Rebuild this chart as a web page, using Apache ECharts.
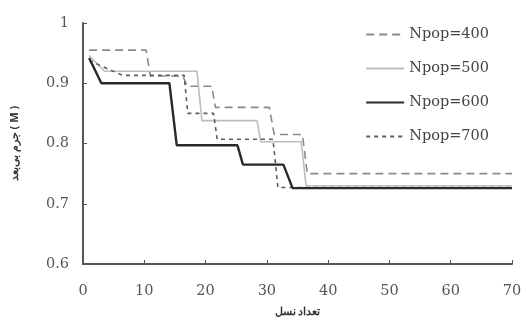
<!DOCTYPE html>
<html><head><meta charset="utf-8">
<script src="https://cdn.jsdelivr.net/npm/echarts@6/dist/echarts.min.js"></script>
<style>html,body{margin:0;padding:0;background:#fff}#c{width:526px;height:325px}</style>
</head><body><div id="c"></div>
<script>
const seriesNames = ['Npop=400', 'Npop=500', 'Npop=600', 'Npop=700'];
const xTicks = [0, 10, 20, 30, 40, 50, 60, 70];
const yTicks = [0.6, 0.7, 0.8, 0.9, 1];
const pop400 = [[1,0.955],[10.3,0.955],[11,0.912],[16.3,0.912],[17,0.895],[21,0.895],[21.6,0.86],[30.4,0.86],[31.2,0.815],[35.8,0.815],[36.6,0.75],[70,0.75]];
const pop500 = [[1,0.946],[3.5,0.92],[18.6,0.92],[19.4,0.838],[28.4,0.838],[29,0.803],[35.6,0.803],[36.4,0.73],[70,0.73]];
const pop600 = [[1,0.942],[3,0.9],[14.1,0.9],[15.3,0.797],[25.2,0.797],[26.1,0.765],[32.7,0.765],[34.2,0.726],[70,0.726]];
const pop700 = [[1,0.938],[4,0.924],[6.5,0.913],[16.5,0.913],[17.1,0.85],[21.3,0.85],[21.9,0.807],[31,0.807],[31.8,0.727],[70,0.727]];

const chart = echarts.init(document.getElementById('c'), null, {renderer:'canvas'});
const font = 'DejaVu Serif';
const styles = [
  {color:'#8a8a8a', width:1.6, type:[8,5]},
  {color:'#bdbdbd', width:1.6, type:'solid'},
  {color:'#2a2a2a', width:2.4, type:'solid'},
  {color:'#5e5e5e', width:1.6, type:[4,4]}
];
const datas = [pop400, pop500, pop600, pop700];
chart.setOption({
  backgroundColor:'#fff',
  animation:false,
  grid:{left:83, right:14, top:23, bottom:61},
  legend:{
    orient:'vertical', right:32, top:22, itemWidth:38, itemHeight:10, itemGap:19,
    itemStyle:{color:'transparent', borderWidth:0},
    textStyle:{fontFamily:font, fontSize:14.5, color:'#444'},
    data: seriesNames
  },
  xAxis:{
    type:'value', min:0, max:70, interval:10,
    name:'تعداد نسل', nameLocation:'middle', nameGap:42,
    nameTextStyle:{fontFamily:'Noto Sans', fontSize:11, fontWeight:'bold', color:'#333'},
    axisLine:{lineStyle:{color:'#555', width:2}},
    axisTick:{show:true, inside:true, length:4, lineStyle:{color:'#555'}},
    axisLabel:{fontFamily:font, fontSize:14.5, color:'#555', margin:20, formatter:v=>String(v)},
    splitLine:{show:false}
  },
  yAxis:{
    type:'value', min:0.6, max:1, interval:0.1,
    name:'جرم بی‌بعد ( M )', nameLocation:'middle', nameGap:63, nameRotate:90,
    nameTextStyle:{fontFamily:'Noto Sans', fontSize:11, fontWeight:'bold', color:'#333'},
    axisLine:{show:true, lineStyle:{color:'#555', width:2}},
    axisTick:{show:true, inside:true, length:4, lineStyle:{color:'#555'}},
    axisLabel:{fontFamily:font, fontSize:14.5, color:'#555', margin:14,
      formatter:v=>{const r=Math.round(v*10)/10; return r===1?'1':r.toFixed(1);}},
    splitLine:{show:false}
  },
  series: seriesNames.map((n,i)=>({
    name:n, type:'line', data:datas[i], symbol:'none', showSymbol:false,
    lineStyle:{color:styles[i].color, width:styles[i].width, type:styles[i].type},
    itemStyle:{color:styles[i].color},
    z: i===2 ? 5 : 3
  }))
});
</script></body></html>
